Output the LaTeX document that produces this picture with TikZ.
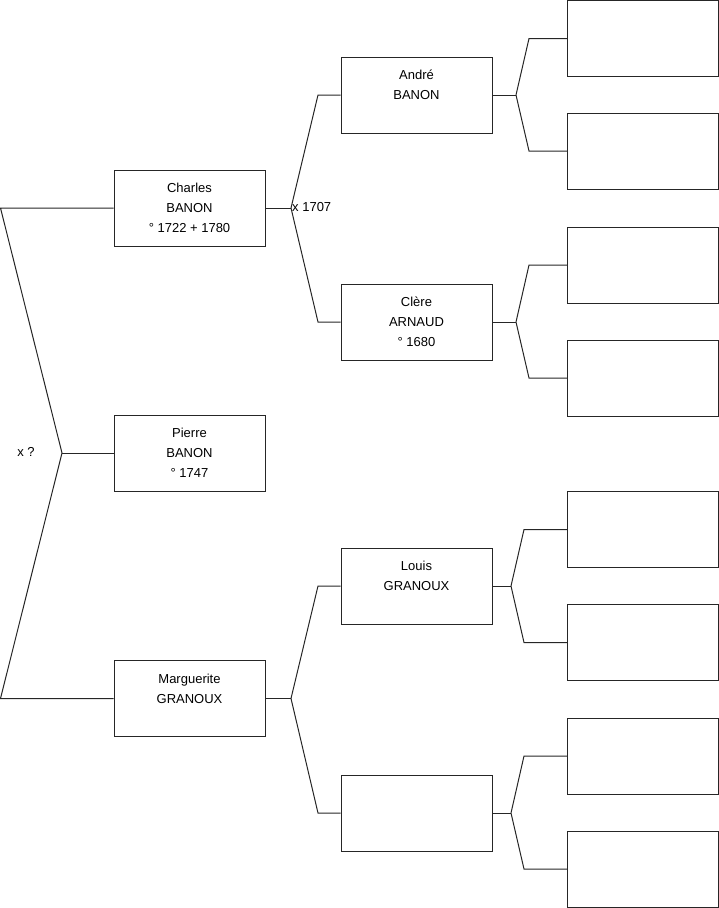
\documentclass[tikz,border=0pt]{standalone}
\usepackage{fontspec}
\setmainfont{Liberation Sans}
\usetikzlibrary{positioning, calc}
\tikzset{
  person/.style={rectangle, draw=black!85, line width=1pt,
                 minimum width=151pt, minimum height=76pt, inner sep=0pt,
                 align=center, font=\fontsize{13}{20}\selectfont},
  link/.style={draw=black!85, line width=1pt},
  union/.style={inner sep=0pt, font=\fontsize{13}{15}\selectfont},
}

\begin{document}
\begin{tikzpicture}[x=1pt, y=-1pt]
    \useasboundingbox (0,0) rectangle (719,908);
    % generation 1
    \node[person] (charles) at (189.5,208) {Charles\\BANON\\° 1722 + 1780};
    \node[person] (pierre) at (189.5,453) {Pierre\\BANON\\° 1747};
    \node[person] (marguerite) at (189.5,698.5) {Marguerite\\GRANOUX\\\mbox{}};
    % generation 2
    \node[person] (andre) at (416.5,95) {André\\BANON\\\mbox{}};
    \node[person] (clere) at (416.5,322) {Clère\\ARNAUD\\° 1680};
    \node[person] (louis) at (416.5,586) {Louis\\GRANOUX\\\mbox{}};
    \node[person] (unknown) at (416.5,813) {};
    % generation 3
    \node[person] (ga1) at (643,38.5) {};
    \node[person] (ga2) at (643,151) {};
    \node[person] (gc1) at (643,265) {};
    \node[person] (gc2) at (643,378) {};
    \node[person] (gl1) at (643,529.5) {};
    \node[person] (gl2) at (643,642.5) {};
    \node[person] (gu1) at (643,756) {};
    \node[person] (gu2) at (643,869) {};

    % parents of pierre
    \coordinate (top0) at (0.5,208);
    \coordinate (bot0) at (0.5,698.5);
    \coordinate (jp) at (62,453);
    \draw[link] (charles.west) -- (top0) -- (jp) -- (bot0) -- (marguerite.west);
    \draw[link] (jp) -- (pierre.west);
    \node[union] (up) at (26,452) {x ?};

    % parents of charles
    \coordinate (jc) at (291,208);
    \draw[link] (charles.east) -- (jc);
    \draw[link] (jc) -- (318,95) -- (andre.west);
    \draw[link] (jc) -- (318,322) -- (clere.west);
    \node[union, anchor=west] (uc) at (292,207) {x 1707};

    % parents of marguerite
    \coordinate (jm) at (291,698.5);
    \draw[link] (marguerite.east) -- (jm);
    \draw[link] (jm) -- (318,586) -- (louis.west);
    \draw[link] (jm) -- (318,813) -- (unknown.west);

    % parents of generation 2
    \coordinate (ja) at (516,95);
    \draw[link] (andre.east) -- (ja);
    \draw[link] (ja) -- (529,38.5) -- (ga1.west);
    \draw[link] (ja) -- (529,151) -- (ga2.west);
    \coordinate (jl) at (516,322);
    \draw[link] (clere.east) -- (jl);
    \draw[link] (jl) -- (529,265) -- (gc1.west);
    \draw[link] (jl) -- (529,378) -- (gc2.west);
    \coordinate (jo) at (511,586);
    \draw[link] (louis.east) -- (jo);
    \draw[link] (jo) -- (524,529.5) -- (gl1.west);
    \draw[link] (jo) -- (524,642.5) -- (gl2.west);
    \coordinate (ju) at (511,813);
    \draw[link] (unknown.east) -- (ju);
    \draw[link] (ju) -- (524,756) -- (gu1.west);
    \draw[link] (ju) -- (524,869) -- (gu2.west);
\end{tikzpicture}
\end{document}
